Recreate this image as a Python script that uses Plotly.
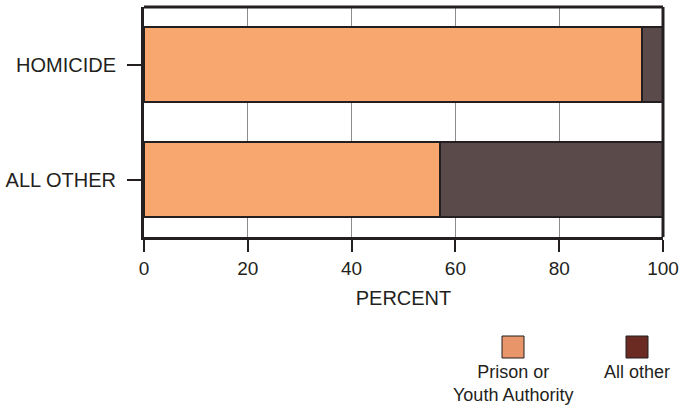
import plotly.graph_objects as go

categories = ["HOMICIDE", "ALL OTHER"]
prison = [96, 57]
other = [4, 43]
series_names = ["Prison or<br>Youth Authority", "All other"]
x_ticks = [0, 20, 40, 60, 80, 100]

bar_colors = ["#F8A86E", "#5A4A4A"]
legend_colors = ["#E8956A", "#6B2A22"]
edge = "#231F20"

fig = go.Figure()
fig.add_trace(go.Bar(y=categories, x=prison, orientation="h", name=series_names[0],
                     marker=dict(color=bar_colors[0], line=dict(color=edge, width=2)),
                     width=0.65, showlegend=False))
fig.add_trace(go.Bar(y=categories, x=other, orientation="h", name=series_names[1],
                     marker=dict(color=bar_colors[1], line=dict(color=edge, width=2)),
                     width=0.65, showlegend=False))

font = "Liberation Sans, Arial, sans-serif"
L, R, T, B = 144, 18, 7, 169
W, H = 681, 406
pw, ph = W - L - R, H - T - B

fig.update_layout(
    barmode="stack",
    width=W, height=H,
    margin=dict(l=L, r=R, t=T, b=B, autoexpand=False),
    plot_bgcolor="white", paper_bgcolor="white",
    font=dict(family=font, size=20, color="#231F20"),
    xaxis=dict(range=[0, 100], tickvals=x_ticks, showgrid=True, gridcolor="#8C8C8C", gridwidth=1,
               showline=True, linecolor=edge, linewidth=3, ticks="outside", ticklen=12,
               tickwidth=2, tickcolor=edge, mirror=False, zeroline=False,
               tickfont=dict(size=19),
               title=dict(text="PERCENT", standoff=14, font=dict(size=20))),
    yaxis=dict(range=[1.5, -0.5], autorange=False, showline=True, linecolor=edge, linewidth=3,
               ticks="outside", ticklen=14, tickwidth=2, tickcolor=edge, showgrid=False,
               ticklabelstandoff=7, tickfont=dict(size=20)),
)

# top and right frame lines
fig.add_shape(type="line", xref="paper", yref="paper", x0=0, x1=1, y0=1, y1=1,
              line=dict(color=edge, width=3))
fig.add_shape(type="line", xref="paper", yref="paper", x0=1, x1=1, y0=0, y1=1,
              line=dict(color=edge, width=3))

def px_x(x):
    return (x - L) / pw

def px_y(y):
    return (H - B - y) / ph

# custom legend
leg_x = [513, 637]
for i, name in enumerate(series_names):
    fig.add_shape(type="rect", xref="paper", yref="paper",
                  x0=px_x(leg_x[i] - 11), x1=px_x(leg_x[i] + 11),
                  y0=px_y(358), y1=px_y(336),
                  fillcolor=legend_colors[i], line=dict(color=edge, width=1))
    fig.add_annotation(xref="paper", yref="paper",
                       x=px_x(leg_x[i]), y=px_y(360),
                       text=name, showarrow=False, xanchor="center", yanchor="top",
                       align="center", font=dict(size=18))

fig.write_html("out.html", config={"displayModeBar": False},
               post_script="document.body.style.margin='0';")
